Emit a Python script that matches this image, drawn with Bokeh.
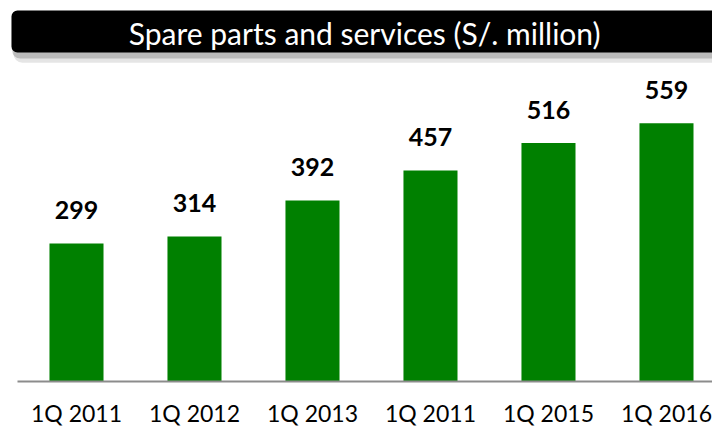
from bokeh.plotting import figure
from bokeh.models import BoxAnnotation, Label, ColumnDataSource
from bokeh.core.properties import value
from bokeh.embed import file_html
from bokeh.resources import INLINE

categories = ["1Q 2011", "1Q 2012", "1Q 2013", "1Q 2011", "1Q 2015", "1Q 2016"]
values = [299, 314, 392, 457, 516, 559]
title_text = "Spare parts and services  (S/. million)"

x_pos = list(range(len(categories)))
src = ColumnDataSource(dict(x=x_pos, v=values, cat=categories,
                            lab=[str(v) for v in values], zero=[0] * len(values)))

X0, X1 = -0.644, 5.39
Y0, Y1 = -101.7, 824.7

p = figure(width=712, height=428, output_backend="svg", toolbar_location=None,
           x_range=(X0, X1), y_range=(Y0, Y1), min_border=0)
p.axis.visible = False
p.grid.visible = False
p.outline_line_color = None
p.background_fill_color = "white"
p.border_fill_color = "white"

# title bar shadow + bar
p.add_layout(BoxAnnotation(left=-0.535, right=6.5, top=790, bottom=690,
                           fill_color="#000000", fill_alpha=0.10, line_color=None,
                           border_radius=9))
p.add_layout(BoxAnnotation(left=-0.545, right=6.5, top=796, bottom=699,
                           fill_color="#000000", fill_alpha=0.18, line_color=None,
                           border_radius=8))
p.add_layout(BoxAnnotation(left=-0.551, right=6.5, top=803, bottom=712,
                           fill_color="#000000", fill_alpha=1.0, line_color=None,
                           border_radius=6))
p.add_layout(Label(x=2.475, y=755, text=title_text, text_color="white",
                   text_font="Lato", text_font_size="30px",
                   text_align="center", text_baseline="middle"))

p.vbar(x="x", top="v", width=0.458, bottom=0, source=src,
       fill_color="#008000", line_color=None)

p.segment(x0=[-0.5], y0=[0], x1=[X1], y1=[0], line_color="#8c8c8c", line_width=2)

p.text(x="x", y="v", text="lab", source=src, y_offset=-33,
       text_font=value("Lato"), text_font_size="25px", text_font_style="bold",
       text_color="black", text_align="center", text_baseline="middle")

p.text(x="x", y="zero", text="cat", source=src, y_offset=31,
       text_font=value("Lato"), text_font_size="23px",
       text_color="black", text_align="center", text_baseline="middle")

open("out.html", "w").write(file_html(p, INLINE))
